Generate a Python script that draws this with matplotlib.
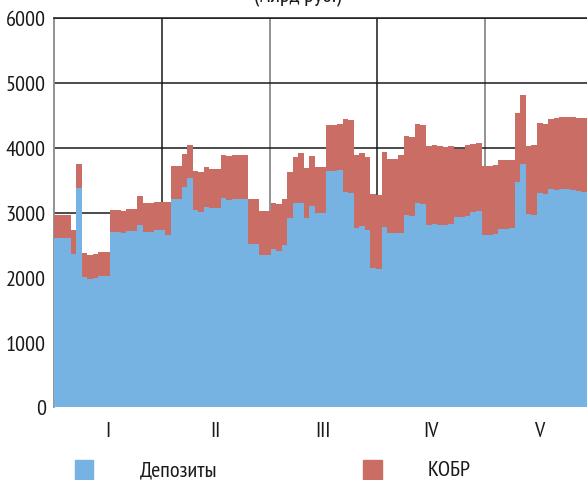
import numpy as np
import matplotlib
matplotlib.use('Agg')
import matplotlib.pyplot as plt
from matplotlib.patches import Rectangle

plt.rcParams['font.family'] = ['PT Sans Narrow', 'DejaVu Sans']

# daily values (млрд руб.), month by month
deposits = [
    # I
    2600, 2600, 2600, 2360, 3383, 2010, 1980, 1995, 2020, 2020,
    2695, 2695, 2685, 2715, 2715, 2807, 2700, 2700, 2728, 2728,
    # II
    2653, 3203, 3203, 3388, 3532, 3034, 3008, 3085, 3065, 3065,
    3219, 3198, 3213, 3213, 3213, 2519, 2519, 2350, 2350,
    # III
    2437, 2411, 2499, 2910, 3142, 3142, 2915, 3096, 2992, 2992,
    3645, 3645, 3650, 3316, 3301, 2761, 2787, 2730, 2144, 2129,
    # IV
    2781, 2679, 2679, 2679, 2962, 2951, 3147, 3131, 2812, 2823,
    2812, 2802, 2818, 2935, 2935, 2946, 3008, 3028, 2658, 2658,
    # V
    2668, 2746, 2746, 2756, 3466, 3753, 2977, 2966, 3296, 3286,
    3363, 3342, 3358, 3358, 3347, 3337, 3321,
]
# deposits + KOBR (top of the stack)
total = [
    2965, 2965, 2965, 2735, 3753, 2375, 2350, 2365, 2385, 2385,
    3040, 3040, 3030, 3060, 3060, 3250, 3147, 3147, 3163, 3163,
    3157, 3713, 3713, 3902, 4041, 3640, 3625, 3702, 3676, 3676,
    3887, 3877, 3892, 3887, 3887, 3203, 3203, 3030, 3030,
    3152, 3126, 3208, 3630, 3861, 3918, 3686, 3872, 3700, 3700,
    4350, 4350, 4365, 4442, 4427, 3887, 3918, 3856, 3285, 3275,
    3928, 3825, 3825, 3892, 4175, 4165, 4365, 4355, 4031, 4041,
    4031, 4015, 4031, 3974, 3974, 4041, 4062, 4077, 3713, 3713,
    3733, 3810, 3810, 3805, 4535, 4817, 4026, 4046, 4376, 4365,
    4442, 4458, 4468, 4468, 4468, 4463, 4463,
]
months = ["I", "II", "III", "IV", "V"]
month_len = 19.41

blue = "#76b2e2"
red = "#c96d65"
fs = 16

dep = np.array(deposits)
tot = np.array(total)
edges = np.arange(len(dep) + 1)

fig = plt.figure(figsize=(5.87, 4.81), dpi=100)
ax = fig.add_axes([54 / 587, 73 / 481, 533 / 587, 389 / 481])

ax.stairs(dep, edges, baseline=0, fill=True, color=blue, zorder=3)
ax.stairs(tot, edges, baseline=dep, fill=True, color=red, zorder=3)

ax.set_xlim(0, len(dep))
ax.set_ylim(0, 6000)
ax.set_yticks(range(0, 6001, 1000))
ax.yaxis.grid(True, color="#1a1a1a", linewidth=1.1, zorder=1)

bounds = [month_len * k for k in range(1, 5)]
for i, b in enumerate(bounds):
    c = "#1a1a1a" if i % 2 == 0 else "#8a8a8a"
    ax.axvline(b, color=c, linewidth=1.3 if i % 2 else 1.1, zorder=1)

ax.set_xticks([month_len * (k + 0.5) for k in range(5)])
ax.set_xticklabels(months)
ax.tick_params(axis="both", length=0, labelsize=fs, colors="#1a1a1a")
ax.tick_params(axis="y", pad=6)
ax.tick_params(axis="x", pad=10)

for s in ["right", "bottom"]:
    ax.spines[s].set_visible(False)
ax.spines["left"].set_color("#8a8a8a")
ax.spines["left"].set_linewidth(1.3)
ax.spines["top"].set_color("#1a1a1a")
ax.spines["top"].set_linewidth(1.1)

# title cut off by the top edge of the picture
fig.text(298 / 587, 1 - 2 / 481, "(млрд руб.)", ha="center", va="baseline",
         fontsize=fs, color="#1a1a1a")

# legend
fig.add_artist(Rectangle((75 / 587, 1 - 480 / 481), 18 / 587, 19 / 481,
                         transform=fig.transFigure, color=blue))
fig.text(140 / 587, 1 - 471 / 481, "Депозиты", ha="left", va="center",
         fontsize=fs, color="#1a1a1a")
fig.add_artist(Rectangle((363 / 587, 1 - 480 / 481), 19 / 587, 19 / 481,
                         transform=fig.transFigure, color=red))
fig.text(428 / 587, 1 - 471 / 481, "КОБР", ha="left", va="center",
         fontsize=fs, color="#1a1a1a")

fig.savefig("out.png", dpi=100)
